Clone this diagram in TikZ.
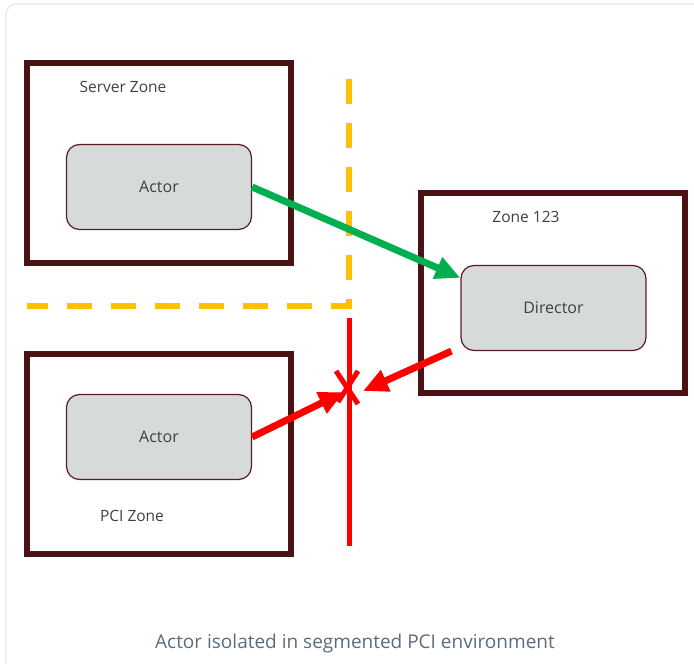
\documentclass[tikz,border=0pt]{standalone}
\usepackage{fontspec}
\setmainfont{Open Sans}
\usetikzlibrary{arrows.meta,calc}
\definecolor{zoneline}{HTML}{4A1212}
\definecolor{actorfill}{HTML}{D7DADB}
\definecolor{actorline}{HTML}{5A1C1C}
\definecolor{labeltext}{HTML}{404040}
\definecolor{captiontext}{HTML}{5B6B80}
\definecolor{cardline}{HTML}{E3E8EE}
\definecolor{okgreen}{HTML}{00B050}
\definecolor{blockred}{HTML}{FF0000}
\definecolor{fenceyellow}{HTML}{FFC000}
\tikzset{
  zonebox/.style={draw=zoneline, line width=5.5pt, minimum width=264pt, minimum height=200pt, inner sep=0pt},
  actorbox/.style={draw=actorline, line width=1.2pt, fill=actorfill, rounded corners=13pt,
    minimum width=185pt, minimum height=85pt, inner sep=0pt, text=labeltext, font=\fontsize{16}{19}\selectfont},
  zonelabel/.style={text=labeltext, font=\fontsize{15.5}{18}\selectfont, inner sep=0pt},
  flow/.style={line width=7pt, -{Triangle[length=25pt,width=22pt]}},
  fence/.style={line width=6pt, fenceyellow, dash pattern=on 25pt off 19pt},
}
\begin{document}
\begin{tikzpicture}[x=1pt,y=-1pt]
\useasboundingbox (0,0) rectangle (694,664);
% card frame
\draw[cardline, line width=1.2pt, rounded corners=10pt] (6,4) rectangle (720,690);

% zones
\node[zonebox] (srvzone) at (159,163) {};
\node[zonebox] (pcizone) at (159,454) {};
\node[zonebox] (z123) at (553,293) {};
\node[zonelabel] (srvlabel) at (123,87) {Server Zone};
\node[zonelabel] (pcilabel) at (132,516) {PCI Zone};
\node[zonelabel] (z123label) at (526,217) {Zone 123};

% actors
\node[actorbox] (actor1) at (159,187) {Actor};
\node[actorbox] (actor2) at (159,437) {Actor};
\node[actorbox] (director) at (553.5,308) {Director};

% segmentation fences
\coordinate (fenceTop) at (349,79);
\coordinate (fenceCorner) at (349,306);
\coordinate (fenceLeft) at (27,306);
\draw[fence] (fenceTop) -- (fenceCorner) -- (fenceLeft);
\coordinate (wallTop) at (349,318);
\coordinate (wallBot) at (349,546);
\draw[blockred, line width=5pt] (wallTop) -- (wallBot);

% allowed flow
\draw[flow, okgreen] (actor1.east) -- ($(director.north west)+(0,13)$);

% blocked flows
\coordinate (hitR) at (363,391);
\coordinate (hitL) at (344,392);
\draw[flow, blockred] ($(director.south west)+(-9,0)$) -- (hitR);
\draw[flow, blockred] (actor2.east) -- (hitL);
\draw[blockred, line width=5pt] (336,371) -- (358,404) (358,371) -- (338,402);

% caption
\node[text=captiontext, font=\fontsize{19}{22}\selectfont] (caption) at (355,644) {Actor isolated in segmented PCI environment};
\end{tikzpicture}
\end{document}
